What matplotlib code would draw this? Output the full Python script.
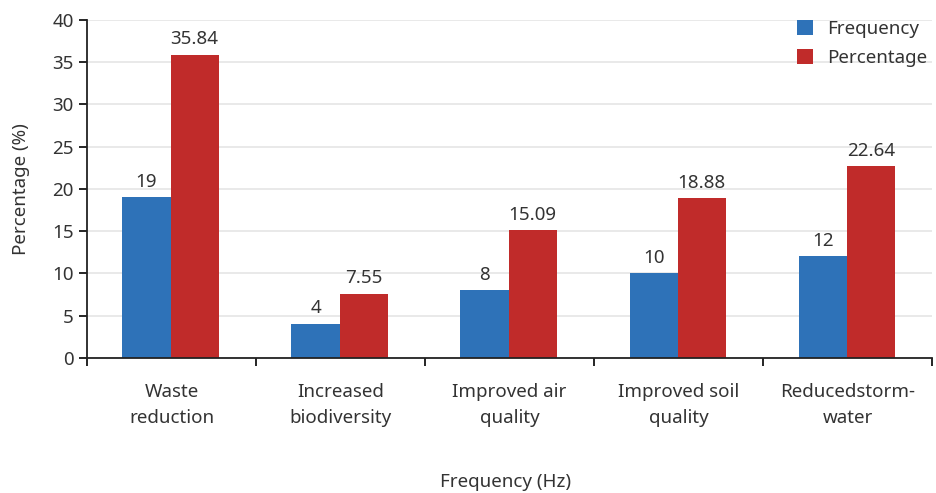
import matplotlib
matplotlib.use("Agg")
import matplotlib.pyplot as plt
import numpy as np

plt.rcParams['font.family'] = ['Noto Sans', 'DejaVu Sans']

categories = ['Waste\nreduction', 'Increased\nbiodiversity', 'Improved air\nquality',
              'Improved soil\nquality', 'Reducedstorm-\nwater']
frequency = [19, 4, 8, 10, 12]
percentage = [35.84, 7.55, 15.09, 18.88, 22.64]

blue = '#2e72b8'
red = '#c02b2a'
txt = '#333333'
fs = 13.5

fig = plt.figure(figsize=(9.36, 4.93), dpi=100)
ax = fig.add_axes([0.093, 0.274, 0.903, 0.686])

x = np.arange(len(categories))
w = 0.285
b1 = ax.bar(x - w / 2 - 0.006, frequency, w, color=blue, label='Frequency')
b2 = ax.bar(x + w / 2 - 0.006, percentage, w, color=red, label='Percentage')

for bars, vals in [(b1, frequency), (b2, percentage)]:
    for rect, v in zip(bars, vals):
        ax.text(rect.get_x() + rect.get_width() / 2, v + 0.8, f'{v:g}',
                ha='center', va='bottom', fontsize=fs, color=txt)

ax.set_xlim(-0.5, len(categories) - 0.5)
ax.set_ylim(0, 40)
ax.set_yticks(range(0, 41, 5))
ax.yaxis.grid(True, color='#e5e5e5', linewidth=1.2)
ax.set_axisbelow(True)

# ticks sit on the category boundaries, labels in the middle
ax.set_xticks(np.arange(-0.5, len(categories), 1.0))
ax.set_xticklabels([])
ax.set_xticks(x, minor=True)
ax.set_xticklabels(categories, minor=True, fontsize=fs, color=txt, linespacing=1.55)
ax.tick_params(axis='x', which='minor', length=0, pad=18)
ax.tick_params(axis='x', which='major', length=6, direction='out', width=1.2)
ax.tick_params(axis='y', length=6, width=1.2, labelsize=fs, labelcolor=txt)

for s in ['top', 'right']:
    ax.spines[s].set_visible(False)
for s in ['left', 'bottom']:
    ax.spines[s].set_linewidth(1.3)
    ax.spines[s].set_color('#222222')

ax.set_ylabel('Percentage (%)', fontsize=fs, color=txt, labelpad=16)
fig.text(0.54, 0.022, 'Frequency (Hz)', ha='center', va='center', fontsize=fs, color=txt)

ax.legend(loc='upper right', bbox_to_anchor=(1.014, 1.05), frameon=False, fontsize=fs,
          handlelength=0.85, handleheight=0.85, handletextpad=0.75, labelspacing=0.62,
          labelcolor=txt)

fig.savefig('out.png', dpi=100)
